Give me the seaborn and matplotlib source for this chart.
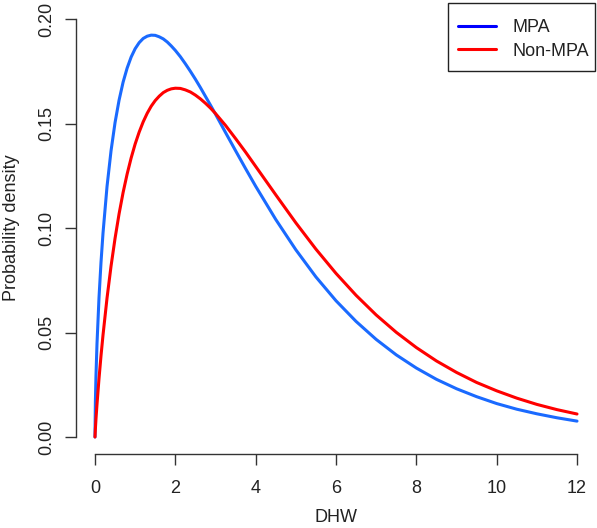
import numpy as np
import pandas as pd
import matplotlib
matplotlib.use("Agg")
import matplotlib.pyplot as plt
from matplotlib.lines import Line2D
from matplotlib.patches import Rectangle
import seaborn as sns

# Values (DHW vs probability density)
dhw = [0, 0.01, 0.025, 0.05, 0.1, 0.15, 0.2, 0.3, 0.4, 0.5, 0.6, 0.7, 0.8, 0.9,
       1.0, 1.1, 1.2, 1.3, 1.4, 1.5, 1.6, 1.7, 1.8, 1.9, 2.0,
       2.125, 2.25, 2.375, 2.5, 2.625, 2.75, 2.875, 3.0,
       3.25, 3.5, 3.75, 4.0, 4.5, 5.0, 5.5, 6.0, 6.5, 7.0, 7.5, 8.0,
       8.5, 9.0, 9.5, 10.0, 10.5, 11.0, 11.5, 12.0]
mpa_density = [0, 0.0169, 0.0294, 0.0445, 0.0666, 0.0836, 0.0976, 0.1199,
               0.1370, 0.1505, 0.1612, 0.1698, 0.1765, 0.1818, 0.1858,
               0.1887, 0.1907, 0.1918, 0.1923, 0.1922, 0.1915, 0.1905, 0.1890,
               0.1871, 0.1850,
               0.1820, 0.1786, 0.1750, 0.1712, 0.1672, 0.1630, 0.1588, 0.1545,
               0.1457, 0.1370, 0.1284, 0.1200, 0.1041, 0.0896, 0.0766, 0.0652,
               0.0553, 0.0467, 0.0393, 0.0330, 0.0276, 0.0231, 0.0193, 0.0160,
               0.0133, 0.0111, 0.0092, 0.0076]
nonmpa_density = [0, 0.0039, 0.0087, 0.0156, 0.0279, 0.0389, 0.0488, 0.0665,
                  0.0818, 0.0951, 0.1068, 0.1170, 0.1258, 0.1335, 0.1402,
                  0.1459, 0.1508, 0.1549, 0.1583, 0.1610, 0.1631, 0.1648, 0.1659,
                  0.1666, 0.1669,
                  0.1668, 0.1661, 0.1651, 0.1636, 0.1618, 0.1597, 0.1574, 0.1548,
                  0.1491, 0.1428, 0.1363, 0.1295, 0.1159, 0.1025, 0.0899, 0.0783,
                  0.0678, 0.0584, 0.0501, 0.0428, 0.0364, 0.0309, 0.0261, 0.0221,
                  0.0186, 0.0156, 0.0131, 0.0110]
groups = ["MPA", "Non-MPA"]
x_ticks = [0, 2, 4, 6, 8, 10, 12]
y_ticks = [0.00, 0.05, 0.10, 0.15, 0.20]

df = pd.DataFrame({
    "DHW": dhw * 2,
    "density": mpa_density + nonmpa_density,
    "group": [groups[0]] * len(dhw) + [groups[1]] * len(dhw),
})

sns.set_theme(style="white")
plt.rcParams['font.family'] = ['Liberation Sans', 'DejaVu Sans']

curve_colors = {"MPA": "#1a6aff", "Non-MPA": "#ff0000"}
legend_colors = {"MPA": "#0000ff", "Non-MPA": "#ff0000"}
axis_col = "#333333"
W, H = 597, 528

fig = plt.figure(figsize=(5.97, 5.28), dpi=100)
ax = fig.add_axes([0.1268, 0.1407, 0.872, 0.8549])

sns.lineplot(data=df, x="DHW", y="density", hue="group", palette=curve_colors,
             linewidth=2.2, legend=False, ax=ax, estimator=None, sort=False,
             solid_joinstyle="round")

ax.set_xlim(-0.48, 12.48)
ax.set_ylim(-0.008, 0.208)
ax.set_xticks(x_ticks)
ax.set_xticklabels([str(t) for t in x_ticks])
ax.set_yticks(y_ticks)
ax.set_yticklabels([f"{t:.2f}" for t in y_ticks], rotation=90, va="center")
ax.set_xlabel("")
ax.set_ylabel("")

for side in ["top", "right"]:
    ax.spines[side].set_visible(False)
ax.spines["left"].set_bounds(0, 0.2)
ax.spines["bottom"].set_bounds(0, 12)
for side in ["left", "bottom"]:
    ax.spines[side].set_color(axis_col)
    ax.spines[side].set_linewidth(1.0)

ax.tick_params(axis="both", bottom=True, left=True, direction="out",
               length=8, width=1.0, color=axis_col, labelcolor="#222222",
               labelsize=13)
ax.tick_params(axis="x", pad=11)
ax.tick_params(axis="y", pad=7)
ax.grid(False)

fig.text(12 / W, 1 - 228 / H, "Probability density", rotation=90,
         ha="center", va="center", fontsize=13, color="#222222")
fig.text(336 / W, 1 - 518 / H, "DHW", ha="center", va="center",
         fontsize=13, color="#222222")

# R-style legend: content from ax.legend, box drawn separately
handles = [Line2D([0], [0], color=legend_colors[g], linewidth=2.2) for g in groups]
leg = ax.legend(handles, groups, loc="upper right",
                bbox_to_anchor=(589 / W, 1 - 19 / H),
                bbox_transform=fig.transFigure, borderaxespad=0,
                frameon=False, fontsize=13, handlelength=2.1,
                handletextpad=0.9, borderpad=0, labelspacing=0.36)
for t in leg.get_texts():
    t.set_color("#222222")
fig.add_artist(Rectangle((448 / W, 1 - 71 / H), 147 / W, 68 / H,
                         transform=fig.transFigure, fill=False,
                         edgecolor="#222222", linewidth=1.0))

fig.savefig("out.png", dpi=100)
